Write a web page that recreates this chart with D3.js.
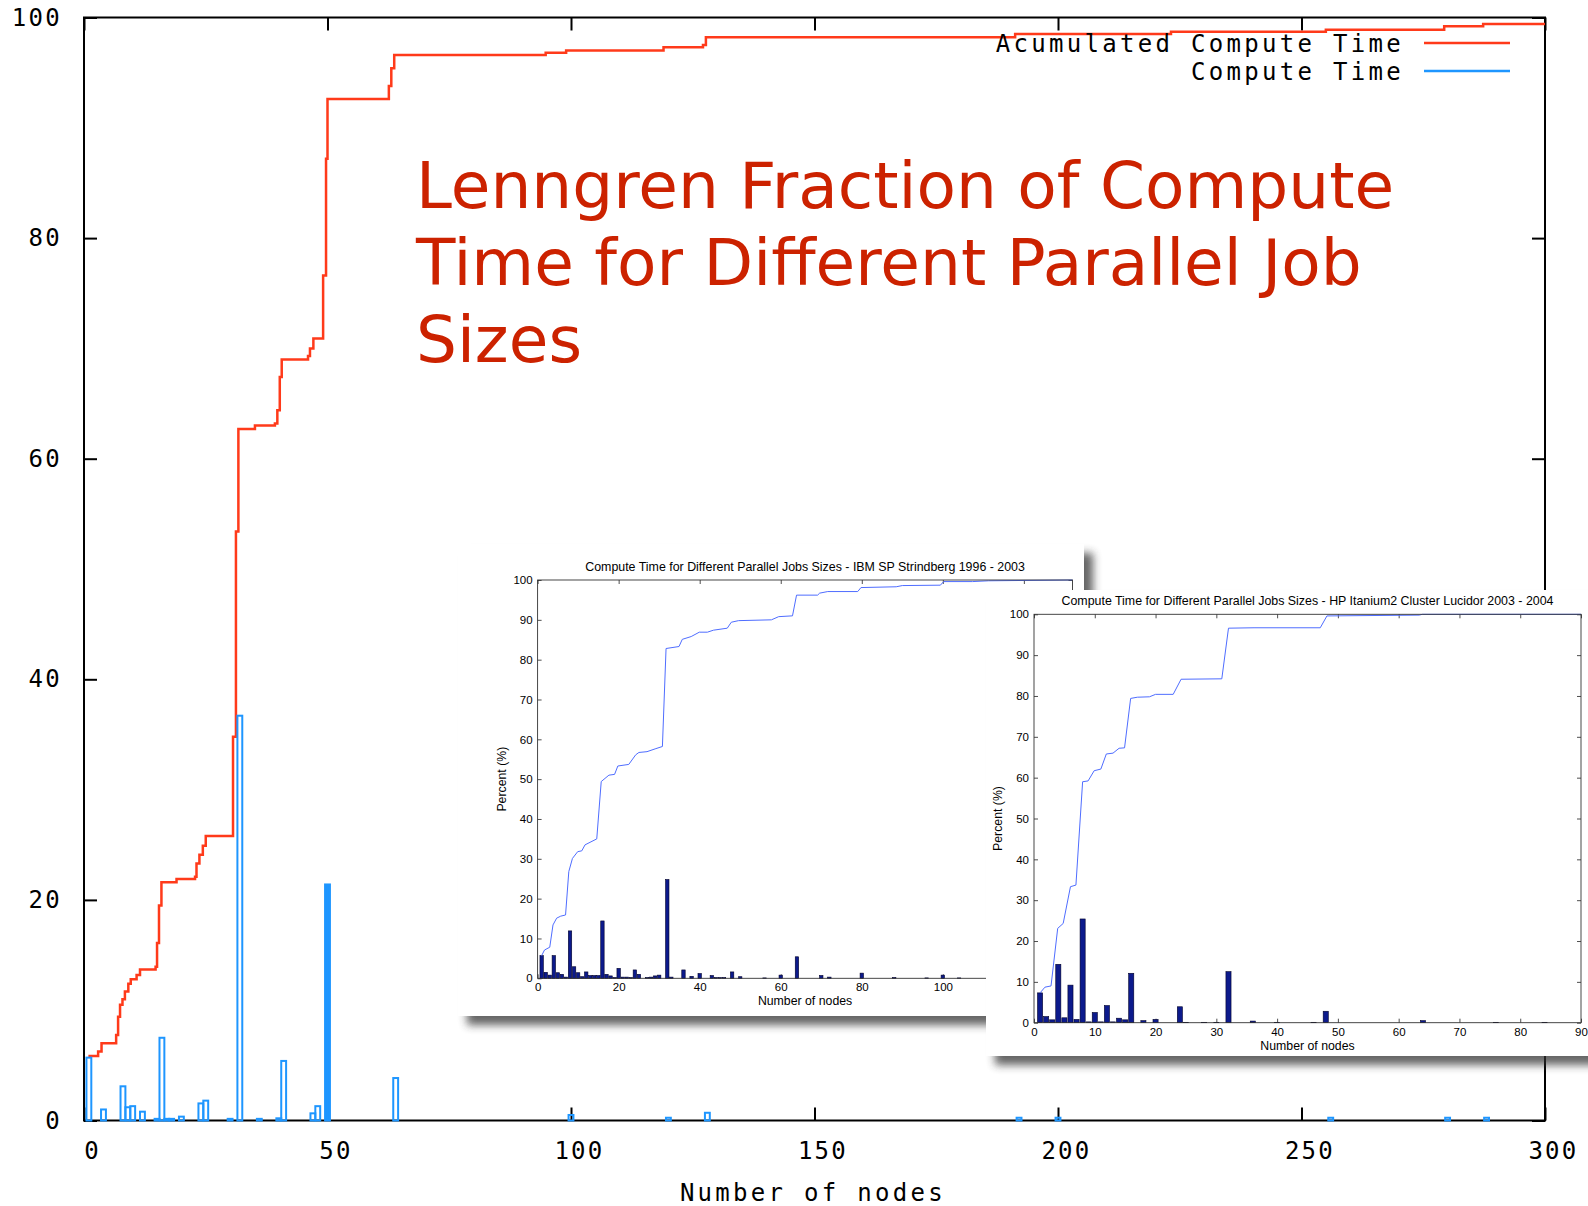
<!DOCTYPE html>
<html>
<head>
<meta charset="utf-8">
<script src="https://cdn.jsdelivr.net/npm/d3@7"></script>
<style>
  html, body { margin: 0; padding: 0; background: #fff; }
  svg { display: block; }
</style>
</head>
<body>
<svg id="chart" width="1588" height="1206"></svg>
<script>
// ---------- Lenngren: compute time per job size (percent) ----------
const mainNodes = [1, 4, 8, 9, 10, 12, 15, 16, 17, 18, 20, 24, 25, 30, 32, 36, 40, 41, 47, 48, 50, 64,
                   100, 120, 128, 192, 200, 256, 280, 288];
const mainPct   = [5.7, 1.0, 3.1, 1.2, 1.3, 0.8, 0.15, 7.5, 0.15, 0.15, 0.35, 1.55, 1.8, 0.15, 36.7, 0.15, 0.2, 5.4, 0.65, 1.3, 21.4, 3.85,
                   0.5, 0.25, 0.7, 0.25, 0.25, 0.25, 0.25, 0.25];

// Lenngren: accumulated compute time (step curve, value from each node count onward)
const accNodes = [0.9, 2.9, 3.6, 6.6, 7.0, 7.4, 7.9, 8.4, 9.1, 9.6, 10.8, 11.5, 14.7, 15.0, 15.4, 15.9, 19.0, 22.8,
                  23.1, 23.7, 24.4, 25.0, 30.6, 31.2, 31.7, 35.1, 39.2, 39.7, 40.2, 40.6, 46.0, 46.4, 47.1, 49.1,
                  49.7, 50.0, 62.6, 63.1, 63.7, 94.8, 99.0, 119.0, 127.1, 127.7, 191.2, 223.2, 255.0, 279.3, 287.3, 300];
const accPct   = [5.85, 6.25, 7.0, 7.75, 9.4, 10.5, 11.0, 11.7, 12.4, 12.8, 13.2, 13.7, 13.95, 16.1, 19.5, 21.6, 21.9, 22.1,
                  23.3, 24.1, 24.9, 25.8, 34.8, 53.4, 62.7, 63.0, 63.2, 64.4, 67.4, 69.0, 69.3, 70.0, 70.9, 76.6,
                  87.2, 92.6, 93.8, 95.4, 96.6, 96.8, 97.0, 97.3, 97.5, 98.2, 98.5, 98.7, 98.9, 99.2, 99.4, 99.4];

const xTicks = [0, 50, 100, 150, 200, 250, 300];
const yTicks = [0, 20, 40, 60, 80, 100];
const legendLabels = ["Acumulated Compute Time", "Compute Time"];
const xAxisLabel = "Number of nodes";
const titleLines = ["Lenngren Fraction of Compute", "Time for Different Parallel Job", "Sizes"];

// ---------- IBM SP Strindberg 1996 - 2003 ----------
const ibmNodes = [1, 2, 3, 4, 5, 6, 7, 8, 9, 10, 11, 12, 13, 14, 15, 16, 17, 18, 19, 20, 21, 22, 23, 24, 25, 27, 28, 29, 30,
                  32, 33, 36, 38, 40, 43, 44, 45, 46, 48, 50, 56, 60, 64, 70, 72, 80, 88, 96, 100, 104, 112, 120, 128];
const ibmPct   = [5.7, 1.5, 0.8, 5.7, 1.4, 1.0, 0.3, 11.9, 2.9, 1.4, 0.4, 1.6, 0.7, 0.7, 0.7, 14.4, 1.0, 0.6, 0.2, 2.5, 0.3, 0.3, 0.2, 2.1, 1.0, 0.2, 0.3, 0.6, 0.8,
                  24.8, 0.3, 2.1, 0.5, 1.2, 0.7, 0.2, 0.2, 0.2, 1.6, 0.4, 0.1, 0.8, 5.4, 0.7, 0.3, 1.3, 0.2, 0.1, 0.8, 0.1, 0.1, 0.1, 0.1];
const ibmAccNodes = [1, 1.7, 3, 3.8, 4.7, 5.7, 6.9, 7.7, 8.6, 9.9, 10.9, 11.7, 14.6, 15.7, 17.6, 19, 19.8, 22.5, 24.2, 25, 27, 29,
                     30.8, 31.7, 34.9, 35.7, 37.9, 39.9, 41.9, 43.4, 46.8, 47.8, 49.6, 57.7, 59.5, 62.9, 63.9, 69.1, 69.6, 71.6,
                     79, 79.8, 88.5, 90, 99.4, 100.2, 107.3, 111.3, 132];
const ibmAccPct   = [5.7, 7.1, 7.8, 13.4, 15.1, 15.6, 15.9, 26.8, 30.1, 31.8, 32, 33.5, 35, 49.4, 51, 51.2, 53.3, 53.7, 56.1, 56.7, 56.9, 57.6,
                     58.2, 82.8, 83.3, 85.1, 85.8, 86.9, 86.9, 87.4, 87.9, 89.4, 89.8, 90, 90.8, 91, 96.2, 96.2, 96.7, 97.1,
                     97.1, 98.1, 98.3, 98.6, 98.7, 99.6, 99.6, 99.8, 100];
const ibmXTicks = [0, 20, 40, 60, 80, 100, 120];
const ibmXTickLabels = ["0", "20", "40", "60", "80", "100", ""];   // last label sits under the Lucidor figure
const ibmTitle = "Compute Time for Different Parallel Jobs Sizes - IBM SP Strindberg 1996 - 2003";

// ---------- HP Itanium2 Cluster Lucidor 2003 - 2004 ----------
const hpNodes = [1, 2, 3, 4, 5, 6, 7, 8, 9, 10, 11, 12, 13, 14, 15, 16, 18, 20, 24, 25, 28, 30, 32, 36, 40, 46, 48, 64, 76, 84];
const hpPct   = [7.3, 1.5, 0.7, 14.3, 1.2, 9.2, 0.8, 25.4, 0.2, 2.5, 0.2, 4.2, 0.2, 1.1, 0.7, 12.1, 0.5, 0.8, 3.9, 0.1, 0.1, 0.1, 12.5, 0.4, 0.1, 0.1, 2.8, 0.5, 0.1, 0.1];
const hpAccNodes = [1, 1.8, 2.8, 3.9, 4.8, 6, 6.9, 8, 8.9, 9.9, 11, 11.9, 13, 14, 14.9, 15.9, 17, 19, 20, 22.9, 24.2,
                    30.9, 32, 36.2, 47.1, 48.2, 63.4, 63.9, 90];
const hpAccPct   = [7.3, 8.7, 9, 23.1, 24.3, 33.3, 33.7, 59, 59.2, 61.7, 62.1, 65.8, 66, 67.2, 67.3, 79.4, 79.7, 79.8, 80.4, 80.4, 84.1,
                    84.2, 96.6, 96.7, 96.7, 99.6, 99.8, 100, 100];
const hpXTicks = [0, 10, 20, 30, 40, 50, 60, 70, 80, 90];
const hpXTickLabels = ["0", "10", "20", "30", "40", "50", "60", "70", "80", "90"];
const hpTitle = "Compute Time for Different Parallel Jobs Sizes - HP Itanium2 Cluster Lucidor 2003 - 2004";

const insetYTicks = [0, 10, 20, 30, 40, 50, 60, 70, 80, 90, 100];
const insetXLabel = "Number of nodes";
const insetYLabel = "Percent (%)";

// ================= drawing =================
const svg = d3.select("#chart");
const defs = svg.append("defs");
defs.append("filter").attr("id", "cardBlur")
    .attr("x", "-10%").attr("y", "-10%").attr("width", "130%").attr("height", "130%")
  .append("feGaussianBlur").attr("stdDeviation", 4.5);

const RED = "#ff3a1a", BLUE = "#1e96ff";
const monoFont = "'DejaVu Sans Mono', 'Liberation Mono', monospace";

// ---- main gnuplot-style panel ----
const plot = { left: 84, right: 1545, top: 17.5, bottom: 1120.5 };
const x = d3.scaleLinear().domain([0, 300]).range([plot.left, plot.right]);
const y = d3.scaleLinear().domain([0, 100]).range([plot.bottom, plot.top]);
const main = svg.append("g");

function styleAxis(g, size, spacing) {
  g.attr("color", "#000")
   .attr("font-family", monoFont)
   .attr("font-size", size)
   .attr("letter-spacing", spacing);
  g.select(".domain").remove();
  g.selectAll(".tick line").attr("stroke-width", 2);
  g.selectAll(".tick text").attr("fill", "#000");
}

main.append("g").attr("transform", `translate(0,${plot.bottom})`)
  .call(d3.axisBottom(x).tickValues(xTicks).tickSizeInner(-13).tickSizeOuter(0).tickPadding(21))
  .call(g => styleAxis(g, 24, 2.3))
  .call(g => g.selectAll(".tick text").attr("dx", 8));
main.append("g").attr("transform", `translate(0,${plot.top})`)
  .call(d3.axisTop(x).tickValues(xTicks).tickSizeInner(-13).tickSizeOuter(0).tickFormat(""))
  .call(g => styleAxis(g, 24, 0));
main.append("g").attr("transform", `translate(${plot.left},0)`)
  .call(d3.axisLeft(y).tickValues(yTicks).tickSizeInner(-13).tickSizeOuter(0).tickPadding(22))
  .call(g => styleAxis(g, 24, 2.3));
main.append("g").attr("transform", `translate(${plot.right},0)`)
  .call(d3.axisRight(y).tickValues(yTicks).tickSizeInner(-13).tickSizeOuter(0).tickFormat(""))
  .call(g => styleAxis(g, 24, 0));

main.append("rect")
  .attr("x", plot.left).attr("y", plot.top)
  .attr("width", plot.right - plot.left).attr("height", plot.bottom - plot.top)
  .attr("fill", "none").attr("stroke", "#000").attr("stroke-width", 2);

main.append("text")
  .attr("x", 813).attr("y", 1201)
  .attr("text-anchor", "middle")
  .attr("font-family", monoFont).attr("font-size", 24).attr("letter-spacing", 3.3)
  .text(xAxisLabel);

// accumulated compute time (steps)
const accData = accNodes.map((n, i) => [n, accPct[i]]);
main.append("path")
  .datum(accData)
  .attr("fill", "none").attr("stroke", RED).attr("stroke-width", 2.5)
  .attr("d", d3.line().x(d => x(d[0])).y(d => y(d[1])).curve(d3.curveStepAfter));

// compute time per job size (hollow boxes; the 50-node box renders solid)
const solidBoxes = new Set([50]);
const barData = mainNodes.map((n, i) => ({ n, v: mainPct[i] }));
main.append("g").selectAll("rect").data(barData).join("rect")
  .attr("x", d => x(d.n - 0.5))
  .attr("width", d => x(d.n + 0.5) - x(d.n - 0.5))
  .attr("y", d => y(d.v))
  .attr("height", d => y(0) - y(d.v))
  .attr("fill", d => solidBoxes.has(d.n) ? BLUE : "none")
  .attr("stroke", BLUE).attr("stroke-width", 2);

// key
const key = main.append("g");
legendLabels.forEach((label, i) => {
  const ky = 43 + i * 28;
  key.append("text")
    .attr("x", 1404).attr("y", ky).attr("dy", "0.36em")
    .attr("text-anchor", "end")
    .attr("font-family", monoFont).attr("font-size", 24).attr("letter-spacing", 3.3)
    .text(label);
  key.append("line")
    .attr("x1", 1424).attr("x2", 1510).attr("y1", ky).attr("y2", ky)
    .attr("stroke", i === 0 ? RED : BLUE).attr("stroke-width", 2.5);
});

// headline
const headline = svg.append("text")
  .attr("font-family", "'DejaVu Sans', Verdana, sans-serif")
  .attr("font-size", 64.5).attr("fill", "#cc2200");
titleLines.forEach((line, i) => {
  headline.append("tspan").attr("x", 416).attr("y", 208 + i * 77).text(line);
});

// ---- inset figures ----
const sansFont = "'Liberation Sans', Arial, Helvetica, sans-serif";

function drawInset(cfg) {
  const g = svg.append("g");
  const [cx, cy, cw, ch] = cfg.card;
  g.append("rect")
    .attr("x", cx + cfg.shadow[0]).attr("y", cy + cfg.shadow[1])
    .attr("width", cw).attr("height", ch)
    .attr("fill", "#333").attr("opacity", 0.75)
    .attr("filter", "url(#cardBlur)");
  g.append("rect")
    .attr("x", cx).attr("y", cy).attr("width", cw).attr("height", ch)
    .attr("fill", "#fff");

  const p = cfg.plot;
  const sx = d3.scaleLinear().domain(cfg.xDomain).range([p.left, p.right]);
  const sy = d3.scaleLinear().domain([0, 100]).range([p.bottom, p.top]);

  const axisStyle = a => {
    a.attr("color", "#222").attr("font-family", sansFont).attr("font-size", 11.5);
    a.select(".domain").remove();
    a.selectAll(".tick line").attr("stroke-width", 0.8);
    a.selectAll(".tick text").attr("fill", "#000");
  };
  g.append("g").attr("transform", `translate(0,${p.bottom})`)
    .call(d3.axisBottom(sx).tickValues(cfg.xTicks).tickSizeInner(-4).tickSizeOuter(0).tickPadding(5)
      .tickFormat((d, i) => cfg.xTickLabels[i]))
    .call(axisStyle);
  g.append("g").attr("transform", `translate(0,${p.top})`)
    .call(d3.axisTop(sx).tickValues(cfg.xTicks).tickSizeInner(-4).tickSizeOuter(0).tickFormat(""))
    .call(axisStyle);
  g.append("g").attr("transform", `translate(${p.left},0)`)
    .call(d3.axisLeft(sy).tickValues(insetYTicks).tickSizeInner(-4).tickSizeOuter(0).tickPadding(5))
    .call(axisStyle);
  g.append("g").attr("transform", `translate(${p.right},0)`)
    .call(d3.axisRight(sy).tickValues(insetYTicks).tickSizeInner(-4).tickSizeOuter(0).tickFormat(""))
    .call(axisStyle);

  const bars = cfg.nodes.map((n, i) => ({ n, v: cfg.pct[i] }));
  g.append("g").selectAll("rect").data(bars).join("rect")
    .attr("x", d => sx(d.n - 0.42))
    .attr("width", d => sx(d.n + 0.42) - sx(d.n - 0.42))
    .attr("y", d => sy(d.v))
    .attr("height", d => sy(0) - sy(d.v))
    .attr("fill", "#0c1a8c").attr("stroke", "#00002a").attr("stroke-width", 0.6);

  const acc = cfg.accNodes.map((n, i) => [n, cfg.accPct[i]]);
  g.append("path").datum(acc)
    .attr("fill", "none").attr("stroke", "#4f6dff").attr("stroke-width", 1)
    .attr("d", d3.line().x(d => sx(d[0])).y(d => sy(d[1])));

  g.append("rect")
    .attr("x", p.left).attr("y", p.top)
    .attr("width", p.right - p.left).attr("height", p.bottom - p.top)
    .attr("fill", "none").attr("stroke", "#333").attr("stroke-width", 0.9);

  g.append("text")
    .attr("x", (p.left + p.right) / 2).attr("y", p.top - 9)
    .attr("text-anchor", "middle").attr("font-family", sansFont).attr("font-size", 12.4)
    .text(cfg.title);
  g.append("text")
    .attr("x", (p.left + p.right) / 2).attr("y", p.bottom + 27)
    .attr("text-anchor", "middle").attr("font-family", sansFont).attr("font-size", 12.3)
    .text(insetXLabel);
  g.append("text")
    .attr("transform", `translate(${p.left - 32},${(p.top + p.bottom) / 2}) rotate(-90)`)
    .attr("text-anchor", "middle").attr("font-family", sansFont).attr("font-size", 12.3)
    .text(insetYLabel);
}

drawInset({
  card: [458, 544, 626, 472], shadow: [9, 9],
  plot: { left: 537.6, right: 1072.5, top: 580, bottom: 978.3 },
  xDomain: [0, 132], xTicks: ibmXTicks, xTickLabels: ibmXTickLabels,
  nodes: ibmNodes, pct: ibmPct, accNodes: ibmAccNodes, accPct: ibmAccPct,
  title: ibmTitle
});
drawInset({
  card: [986, 590, 620, 466], shadow: [9, 9],
  plot: { left: 1034, right: 1581, top: 614.3, bottom: 1022.7 },
  xDomain: [0, 90], xTicks: hpXTicks, xTickLabels: hpXTickLabels,
  nodes: hpNodes, pct: hpPct, accNodes: hpAccNodes, accPct: hpAccPct,
  title: hpTitle
});
</script>
</body>
</html>
